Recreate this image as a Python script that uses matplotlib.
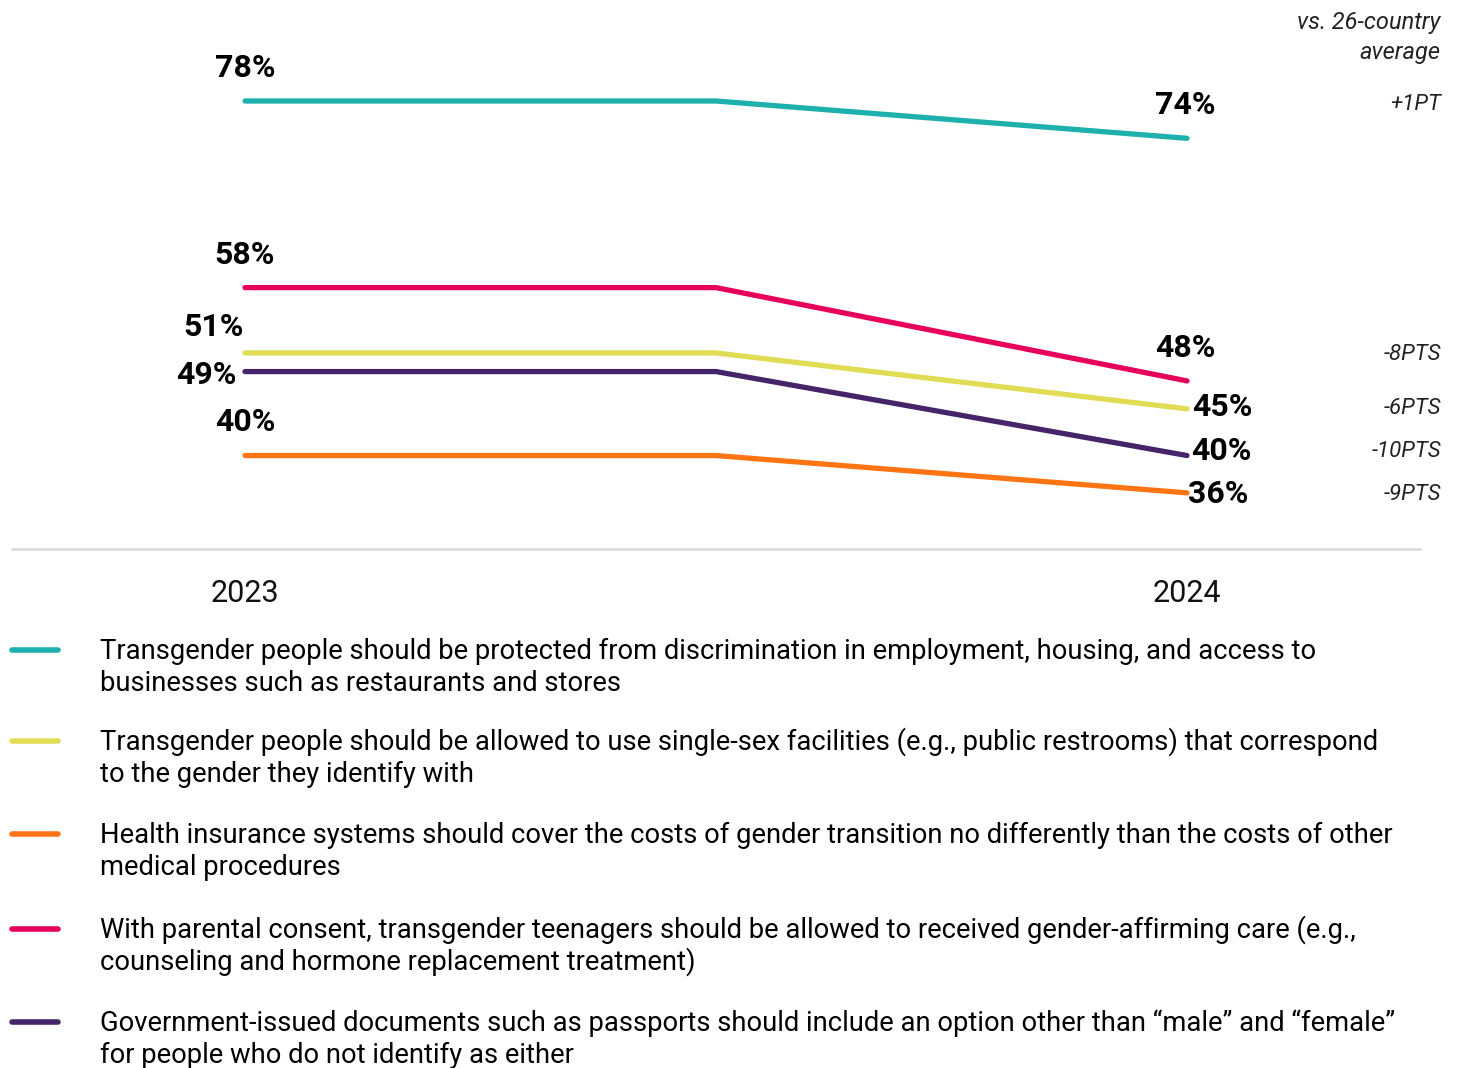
import matplotlib
matplotlib.use("Agg")
import matplotlib.pyplot as plt
import matplotlib.transforms as mtransforms

plt.rcParams["font.family"] = ["Roboto", "DejaVu Sans"]

# data
years = ["2023", "2024"]
x_pos = [0, 0.5, 1]  # line drawn flat to midpoint, then slopes to 2024
series_names = [
    "Transgender people should be protected from discrimination in employment, housing, and access to\nbusinesses such as restaurants and stores",
    "Transgender people should be allowed to use single-sex facilities (e.g., public restrooms) that correspond\nto the gender they identify with",
    "Health insurance systems should cover the costs of gender transition no differently than the costs of other\nmedical procedures",
    "With parental consent, transgender teenagers should be allowed to received gender-affirming care (e.g.,\ncounseling and hormone replacement treatment)",
    "Government-issued documents such as passports should include an option other than \u201cmale\u201d and \u201cfemale\u201d\nfor people who do not identify as either",
]
protected = [78, 78, 74]
facilities = [51, 51, 45]
insurance = [40, 40, 36]
teen_care = [58, 58, 48]
documents = [49, 49, 40]
vs_average = ["+1PT", "-6PTS", "-9PTS", "-8PTS", "-10PTS"]

series = [protected, facilities, insurance, teen_care, documents]
colors = ["#1db0ad", "#e1dc55", "#ff7514", "#e6005b", "#46246a"]

# label placement (offset pixels, alignment) for start / end labels
start_lbl = [(0, 33, "center"), (-31, 26, "center"), (0, 34, "center"), (0, 33, "center"), (-8, -3, "right")]
end_lbl = [(-2, 33, "center"), (5, 2, "left"), (1, -1, "left"), (-2, 33, "center"), (4, 5, "left")]
diff_px = [104, 408, 494, 355, 452]  # y pixel of the right-hand column texts

W, H = 1461, 1068
fig = plt.figure(figsize=(W / 100, H / 100), dpi=100)
ax = fig.add_axes([12 / W, 1 - 549 / H, (1420 - 12) / W, 549 / H])
ax.set_xlim((12 - 245) / 942, (1420 - 245) / 942)
ax.set_ylim(78 - 448 / 9.33, 78 + 101 / 9.33)
ax.axis("off")
ax.axhline(ax.get_ylim()[0], color="#d9d9d9", lw=1.8, clip_on=False)

for vals, c, sl, el in zip(series, colors, start_lbl, end_lbl):
    ax.plot(x_pos, vals, color=c, lw=3.8, solid_capstyle="round", solid_joinstyle="round")
    ax.annotate(f"{vals[0]}%", (x_pos[0], vals[0]), xytext=sl[:2], textcoords="offset pixels",
                ha=sl[2], va="center", fontsize=23, fontweight="bold", color="black")
    ax.annotate(f"{vals[-1]}%", (x_pos[-1], vals[-1]), xytext=el[:2], textcoords="offset pixels",
                ha=el[2], va="center", fontsize=23, fontweight="bold", color="black")

trans = mtransforms.blended_transform_factory(ax.transData, fig.transFigure)
for xp, yr in zip([x_pos[0], x_pos[-1]], years):
    ax.text(xp, 1 - 594 / H, yr, transform=trans, ha="center", va="center", fontsize=22, color="#111111")

fig.text(1440 / W, 1 - 22 / H, "vs. 26-country", ha="right", va="center", fontsize=17, style="italic", color="#222222")
fig.text(1440 / W, 1 - 52 / H, "average", ha="right", va="center", fontsize=17, style="italic", color="#222222")
for txt, yp in zip(vs_average, diff_px):
    fig.text(1441 / W, 1 - yp / H, txt, ha="right", va="center", fontsize=16, style="italic", color="#222222")

# legend: one text per line so spacing stays even
leg_y = [650, 741, 834, 929, 1022]
for name, c, yp in zip(series_names, colors, leg_y):
    fig.add_artist(plt.Line2D([12 / W, 58 / W], [1 - yp / H] * 2, color=c, lw=4, solid_capstyle="round"))
    for i, line in enumerate(name.split("\n")):
        fig.text(100 / W, 1 - (yp + 9 + 32 * i) / H, line, ha="left", va="baseline",
                 fontsize=19.7, color="black")

fig.savefig("out.png", dpi=100)
